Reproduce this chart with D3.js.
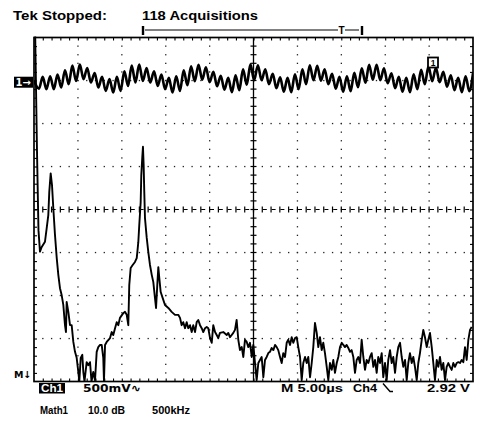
<!DOCTYPE html>
<html lang="en">
<head>
<meta charset="utf-8">
<title>Tek scope: Ch1 and Math1 FFT</title>
<script src="https://cdn.jsdelivr.net/npm/d3@7"></script>
<style>
  body { margin: 0; background: #fff; }
  svg { display: block; }
  text { font-family: "Liberation Sans", Arial, sans-serif; font-weight: bold; fill: #000; }
  text.sym { font-family: "DejaVu Sans", sans-serif; }
</style>
</head>
<body>
<script>
var w = 478, h = 423;
// graticule box
var L = 34, R = 473, T = 37.5, B = 381.5;

// Ch1: extremes of the waveform, time in µs (5 µs/div), volts (500 mV/div)
var ch1Time = [0.00, 0.57,
  0.99, 1.41, 1.84, 2.26, 2.68, 3.10, 3.53, 3.95, 4.37, 4.79, 5.22, 5.64, 6.06, 6.48, 6.91, 7.33, 7.75, 8.17,
  8.60, 9.02, 9.44, 9.86, 10.29, 10.71, 11.13, 11.55, 11.98, 12.40, 12.82, 13.24, 13.67, 14.09, 14.51, 14.93,
  15.36, 15.78, 16.20, 16.62, 17.05, 17.47, 17.89, 18.31, 18.74, 19.16, 19.58, 20.00, 20.43, 20.85, 21.27, 21.69,
  22.12, 22.54, 22.96, 23.38, 23.81, 24.23, 24.65, 25.07, 25.50, 25.92, 26.34, 26.76, 27.19, 27.61, 28.03, 28.45,
  28.88, 29.30, 29.72, 30.14, 30.57, 30.99, 31.41, 31.83, 32.26, 32.68, 33.10, 33.52, 33.95, 34.37, 34.79, 35.21,
  35.64, 36.06, 36.48, 36.90, 37.33, 37.75, 38.17, 38.59, 39.02, 39.44, 39.86, 40.28, 40.71, 41.13, 41.55, 41.97,
  42.40, 42.82, 43.24, 43.66, 44.09, 44.51, 44.93, 45.35, 45.78, 46.20, 46.62, 47.04, 47.47, 47.89, 48.31, 48.73,
  49.16, 49.58, 50.00];
var ch1Volt = [0.02, -0.076,
  0.062, -0.081, 0.070, -0.081, 0.090, -0.062, 0.140, -0.023, 0.194, 0.015, 0.206, 0.035, 0.166, -0.003,
  0.108, -0.062, 0.062, -0.101, 0.037, -0.120, 0.062, -0.101, 0.128, -0.043, 0.194, -0.003, 0.206, 0.015,
  0.166, -0.003, 0.128, -0.043, 0.090, -0.081, 0.050, -0.120, 0.070, -0.101, 0.140, -0.035, 0.186, 0.012,
  0.204, 0.029, 0.174, 0.000, 0.122, -0.047, 0.076, -0.087, 0.052, -0.116, 0.081, -0.093, 0.151, -0.029,
  0.209, 0.023, 0.198, 0.023, 0.151, -0.023, 0.099, -0.070, 0.058, -0.110, 0.052, -0.116, 0.093, -0.081,
  0.151, -0.023, 0.198, 0.023, 0.192, 0.017, 0.151, -0.023, 0.099, -0.076, 0.064, -0.110, 0.070, -0.105,
  0.110, -0.058, 0.163, -0.006, 0.204, 0.029, 0.204, 0.023, 0.163, -0.012, 0.105, -0.070, 0.064, -0.110,
  0.052, -0.116, 0.093, -0.081, 0.145, -0.023, 0.186, 0.012, 0.169, 0.000, 0.122, -0.052, 0.081, -0.093,
  0.052, -0.116, 0.070, -0.105, 0.105];

// Math1: FFT of Ch1, frequency in MHz (500 kHz/div), level in dB above screen bottom (10 dB/div)
var mathFreq = [
  0.011, 0.034, 0.051, 0.068, 0.088, 0.125, 0.145, 0.163, 0.174, 0.190, 0.205, 0.220, 0.239, 0.259, 0.277,
  0.296, 0.315, 0.334, 0.353, 0.364, 0.372, 0.391, 0.410, 0.429, 0.448, 0.467, 0.486, 0.505, 0.516, 0.532,
  0.550, 0.562, 0.575, 0.600, 0.618, 0.638, 0.655, 0.675, 0.695, 0.714, 0.732, 0.752, 0.771, 0.789, 0.797,
  0.809, 0.828, 0.866, 0.885, 0.903, 0.923, 0.942, 0.960, 0.979,
  1.017, 1.036, 1.056, 1.074, 1.085, 1.101, 1.124, 1.150, 1.170, 1.177, 1.188, 1.199, 1.215, 1.222, 1.233,
  1.241, 1.249, 1.256, 1.264, 1.284, 1.302, 1.321, 1.341, 1.359, 1.378, 1.390, 1.404, 1.416, 1.427, 1.443,
  1.466, 1.492, 1.530, 1.568, 1.606, 1.643, 1.663, 1.682, 1.700, 1.720, 1.739, 1.757, 1.777, 1.796, 1.814,
  1.834, 1.853, 1.871, 1.891, 1.910, 1.928, 1.948, 1.967, 1.985, 2.005, 2.024, 2.042, 2.062, 2.081, 2.099, 2.118,
  2.156, 2.195, 2.213, 2.232, 2.270, 2.289, 2.308, 2.327, 2.346, 2.366, 2.384, 2.403, 2.423, 2.441, 2.460,
  2.480, 2.498, 2.517, 2.536, 2.555, 2.574, 2.593, 2.612, 2.631, 2.650, 2.669, 2.688, 2.707, 2.726, 2.745,
  2.764, 2.782, 2.802, 2.821, 2.839, 2.859, 2.878, 2.896, 2.916, 2.935, 2.953, 2.973, 2.992, 3.010, 3.030,
  3.049, 3.067, 3.087, 3.106, 3.124, 3.144, 3.163, 3.181, 3.200, 3.220, 3.238, 3.257, 3.277, 3.295, 3.314,
  3.334, 3.352, 3.371, 3.391, 3.409, 3.428, 3.448, 3.466, 3.485, 3.505, 3.523, 3.542, 3.561, 3.580, 3.599,
  3.618, 3.637, 3.656, 3.675, 3.694, 3.713, 3.732, 3.751, 3.770, 3.789, 3.808, 3.827, 3.846, 3.865, 3.884,
  3.903, 3.921, 3.941, 3.960, 3.978, 3.998, 4.017, 4.035, 4.055, 4.074, 4.092, 4.112, 4.131, 4.149, 4.169,
  4.188, 4.206, 4.226, 4.245, 4.263, 4.282, 4.302, 4.320, 4.339, 4.359, 4.377, 4.396, 4.416, 4.434, 4.453,
  4.473, 4.491, 4.510, 4.530, 4.548, 4.567, 4.587, 4.605, 4.624, 4.643, 4.662, 4.681, 4.700, 4.719, 4.738,
  4.757, 4.776, 4.795, 4.814, 4.833, 4.852, 4.871, 4.890, 4.909, 4.928, 4.947, 4.966, 4.985];
var mathDb = [
  84.1, 53.8, 35.2, 30.2, 31.3, 32.5, 35.7, 38.7, 44.1, 48.4, 45.7, 40.3, 34.1, 28.7, 24.8,
  21.7, 20.1, 17.8, 13.1, 11.5, 18.5, 16.2, 13.1, 13.1, 9.2, 6.9, 5.5, 2.2, 0, 5.5,
  6.2, 2.2, 0, 4.5, 3.8, 4.5, 0, 2.2, 0.3, 6.9, 8.0, 8.5, 8.5, 5.5, 0,
  8.5, 9.2, 10.1, 11.5, 10.8, 12.4, 13.8, 13.1, 14.8,
  15.9, 16.2, 15.5, 13.1, 22.4, 26.4, 27.1, 27.8, 28.7, 30.1, 32.4, 36.4, 41.7, 48.0, 52.0,
  54.6, 50.3, 44.1, 38.0, 33.4, 30.1, 27.1, 24.8, 23.1, 19.4, 17.1, 22.4, 26.6, 24.1, 20.8,
  19.4, 17.8, 17.1, 16.2, 15.5, 15.5, 14.8, 13.1, 13.8, 12.4, 13.8, 12.4, 13.1, 11.5, 13.1,
  11.5, 13.8, 14.3, 13.1, 12.4, 11.5, 12.4, 12.7, 12.4, 10.1, 9.0, 13.1, 11.5, 10.8, 10.1, 11.3,
  11.5, 10.8, 11.3, 10.3, 11.3, 12.0, 14.3, 9.7, 7.3, 8.0, 5.7, 9.7, 9.2, 8.0, 9.0,
  5.7, 8.5, 4.3, 0.3, 4.3, 5.0, 5.7, 1.0, 5.0, 5.7, 6.6, 6.9, 7.8, 7.3, 8.5,
  8.0, 7.3, 5.7, 4.3, 6.6, 5.7, 9.0, 9.7, 8.5, 10.3, 9.0, 10.1, 10.3, 8.0, 5.7,
  0.3, 4.3, 5.7, 4.3, 5.7, 1.0, 4.3, 8.0, 13.6, 11.3, 8.0, 10.3, 7.3, 9.0, 6.6,
  3.4, 0.3, 4.3, 2.7, 5.0, 2.0, 4.3, 5.7, 8.0, 9.0, 8.5, 8.0, 8.5, 7.8, 6.9,
  7.3, 5.7, 2.0, 5.0, 5.7, 4.3, 9.7, 5.7, 2.7, 5.0, 4.3, 5.7, 6.6, 3.4, 5.0,
  2.0, 5.7, 4.3, 6.6, 1.0, 4.3, 0.3, 5.0, 7.3, 4.3, 5.7, 2.0, 5.7, 8.0, 9.0,
  5.7, 3.4, 5.0, 0.3, 4.3, 6.6, 4.3, 5.7, 3.4, 0.3, 4.3, 6.6, 9.7, 12.0, 10.3,
  8.0, 9.7, 11.3, 8.0, 4.3, 0.3, 5.0, 3.4, 5.7, 2.7, 4.3, 0.3, 3.4, 4.3, 3.4,
  2.7, 4.3, 3.4, 4.3, 4.5, 4.3, 5.0, 4.5, 8.0, 5.0, 9.7, 12.0, 12.7];

var xDivs = 10, yDivs = 8, minorPerDiv = 5;

var svg = d3.select("body").append("svg")
  .attr("width", w)
  .attr("height", h);

var gx = d3.scaleLinear().domain([0, xDivs]).range([L, R]);
var gy = d3.scaleLinear().domain([0, yDivs]).range([B, T]);
var xTime = d3.scaleLinear().domain([0, 50]).range([L, R]);
var xFreq = d3.scaleLinear().domain([0, 5]).range([L, R]);
var yVolt = d3.scaleLinear().domain([-3.48, 0.52]).range([B, T]);
var yDb = d3.scaleLinear().domain([0, 80]).range([B, T]);

var minorX = d3.range(1, xDivs * minorPerDiv).map(function(i) { return i / minorPerDiv; });
var minorY = d3.range(1, yDivs * minorPerDiv).map(function(i) { return i / minorPerDiv; });

// dotted graticule lines
var grid = svg.append("g").attr("fill", "#222");
d3.range(1, xDivs).filter(function(i) { return i != xDivs / 2; }).forEach(function(i) {
  grid.selectAll(null).data(minorY).enter().append("rect")
    .attr("x", gx(i) - 0.6).attr("y", function(d) { return gy(d) - 0.6; })
    .attr("width", 1.3).attr("height", 1.3);
});
d3.range(1, yDivs).filter(function(j) { return j != yDivs / 2; }).forEach(function(j) {
  grid.selectAll(null).data(minorX).enter().append("rect")
    .attr("x", function(d) { return gx(d) - 0.6; }).attr("y", gy(j) - 0.6)
    .attr("width", 1.3).attr("height", 1.3);
});

// centre cross with ticks
var cx = gx(xDivs / 2), cy = gy(yDivs / 2);
svg.append("line").attr("x1", cx).attr("x2", cx).attr("y1", T).attr("y2", B)
  .attr("stroke", "#000").attr("stroke-width", 1.3);
svg.append("line").attr("x1", L).attr("x2", R).attr("y1", cy).attr("y2", cy)
  .attr("stroke", "#000").attr("stroke-width", 1.2).attr("stroke-dasharray", "4 4.8");
svg.append("g").selectAll("line").data(minorY).enter().append("line")
  .attr("x1", cx - 3).attr("x2", cx + 3)
  .attr("y1", function(d) { return gy(d); }).attr("y2", function(d) { return gy(d); })
  .attr("stroke", "#000").attr("stroke-width", 1.2);
svg.append("g").selectAll("line").data(minorX).enter().append("line")
  .attr("y1", cy - 3).attr("y2", cy + 3)
  .attr("x1", function(d) { return gx(d); }).attr("x2", function(d) { return gx(d); })
  .attr("stroke", "#000").attr("stroke-width", 1.2);

// border ticks
function borderAxis(axis, tx, ty, vals) {
  var g = svg.append("g").attr("transform", "translate(" + tx + "," + ty + ")")
    .call(axis.tickValues(vals).tickSize(3).tickFormat(""));
  g.select(".domain").remove();
  g.selectAll("line").attr("stroke", "#000").attr("stroke-width", 1.1);
}
borderAxis(d3.axisBottom(gx), 0, T, minorX);
borderAxis(d3.axisTop(gx), 0, B, minorX);
borderAxis(d3.axisRight(gy), L, 0, minorY);
borderAxis(d3.axisLeft(gy), R, 0, minorY);

svg.append("rect").attr("x", L).attr("y", T).attr("width", R - L).attr("height", B - T)
  .attr("fill", "none").attr("stroke", "#000").attr("stroke-width", 1.7);

// traces
svg.append("clipPath").attr("id", "screen").append("rect")
  .attr("x", L).attr("y", T - 1).attr("width", R - L).attr("height", B - T + 1.5);

var ch1Line = d3.line()
  .x(function(d) { return xTime(d[0]); })
  .y(function(d) { return yVolt(d[1]); })
  .curve(d3.curveMonotoneX);
svg.append("path")
  .datum(d3.zip(ch1Time, ch1Volt))
  .attr("clip-path", "url(#screen)")
  .attr("d", ch1Line)
  .attr("fill", "none").attr("stroke", "#000").attr("stroke-width", 2.6);

var mathLine = d3.line()
  .x(function(d) { return xFreq(d[0]); })
  .y(function(d) { return yDb(d[1]); });
svg.append("path")
  .datum(d3.zip(mathFreq, mathDb))
  .attr("clip-path", "url(#screen)")
  .attr("d", mathLine)
  .attr("fill", "none").attr("stroke", "#000").attr("stroke-width", 1.9)
  .attr("stroke-linejoin", "round");

// Ch1 ground marker
var g0 = yVolt(0);
svg.append("rect").attr("x", 14).attr("y", g0 - 5.5).attr("width", 19).attr("height", 11).attr("fill", "#000");
svg.append("text").attr("class", "sym").attr("x", 15.5).attr("y", g0 + 3.8).attr("font-size", 10)
  .style("fill", "#fff").text("1\u2192");

// trigger level marker
svg.append("rect").attr("x", 428).attr("y", 57.5).attr("width", 10).attr("height", 10)
  .attr("fill", "#fff").attr("stroke", "#000").attr("stroke-width", 1.8);
svg.append("text").attr("x", 433).attr("y", 65.5).attr("font-size", 8.5)
  .attr("text-anchor", "middle").text("1");

// Math ground marker
svg.append("text").attr("class", "sym").attr("x", 14).attr("y", 378).attr("font-size", 9.5).text("M\u2193");

// trigger position bar above the screen
var bar = svg.append("g").attr("stroke", "#000");
bar.append("line").attr("x1", 143).attr("x2", 143).attr("y1", 26).attr("y2", 35).attr("stroke-width", 2.4);
bar.append("line").attr("x1", 145).attr("x2", 338).attr("y1", 30).attr("y2", 30).attr("stroke-width", 1);
bar.append("line").attr("x1", 345).attr("x2", 359).attr("y1", 30).attr("y2", 30).attr("stroke-width", 1);
bar.append("line").attr("x1", 362).attr("x2", 362).attr("y1", 26).attr("y2", 35).attr("stroke-width", 2.4);
svg.append("text").attr("x", 341.5).attr("y", 34).attr("font-size", 10)
  .attr("text-anchor", "middle").text("T");

// header
svg.append("text").attr("x", 13).attr("y", 20).attr("font-size", 12.5)
  .attr("textLength", 94).attr("lengthAdjust", "spacingAndGlyphs").text("Tek Stopped:");
svg.append("text").attr("x", 142).attr("y", 20).attr("font-size", 12.5)
  .attr("textLength", 116).attr("lengthAdjust", "spacingAndGlyphs").text("118 Acquisitions");

// settings line
svg.append("rect").attr("x", 39).attr("y", 383).attr("width", 26).attr("height", 10.5).attr("fill", "#000");
svg.append("text").attr("x", 41).attr("y", 392).attr("font-size", 10.5)
  .attr("textLength", 22).attr("lengthAdjust", "spacingAndGlyphs")
  .style("fill", "#fff").text("Ch1");
svg.append("text").attr("class", "sym").attr("x", 83).attr("y", 392).attr("font-size", 11)
  .attr("textLength", 58).attr("lengthAdjust", "spacingAndGlyphs").text("500mV\u223F");
svg.append("text").attr("x", 281).attr("y", 392).attr("font-size", 11.5)
  .attr("textLength", 62).attr("lengthAdjust", "spacingAndGlyphs").text("M 5.00\u00B5s");
svg.append("text").attr("x", 353).attr("y", 392).attr("font-size", 11.5)
  .attr("textLength", 24).attr("lengthAdjust", "spacingAndGlyphs").text("Ch4");
svg.append("path").attr("d", "M383,383.5 L390,391.5 L393,391.5")
  .attr("fill", "none").attr("stroke", "#000").attr("stroke-width", 1.4);
svg.append("text").attr("x", 470).attr("y", 392).attr("font-size", 11.5)
  .attr("textLength", 43).attr("lengthAdjust", "spacingAndGlyphs")
  .attr("text-anchor", "end").text("2.92 V");

svg.append("text").attr("x", 40).attr("y", 414).attr("font-size", 10.5)
  .attr("textLength", 28).attr("lengthAdjust", "spacingAndGlyphs").text("Math1");
svg.append("text").attr("x", 88).attr("y", 414).attr("font-size", 10.5)
  .attr("textLength", 37).attr("lengthAdjust", "spacingAndGlyphs").text("10.0 dB");
svg.append("text").attr("x", 152).attr("y", 414).attr("font-size", 10.5)
  .attr("textLength", 38).attr("lengthAdjust", "spacingAndGlyphs").text("500kHz");
</script>
</body>
</html>
